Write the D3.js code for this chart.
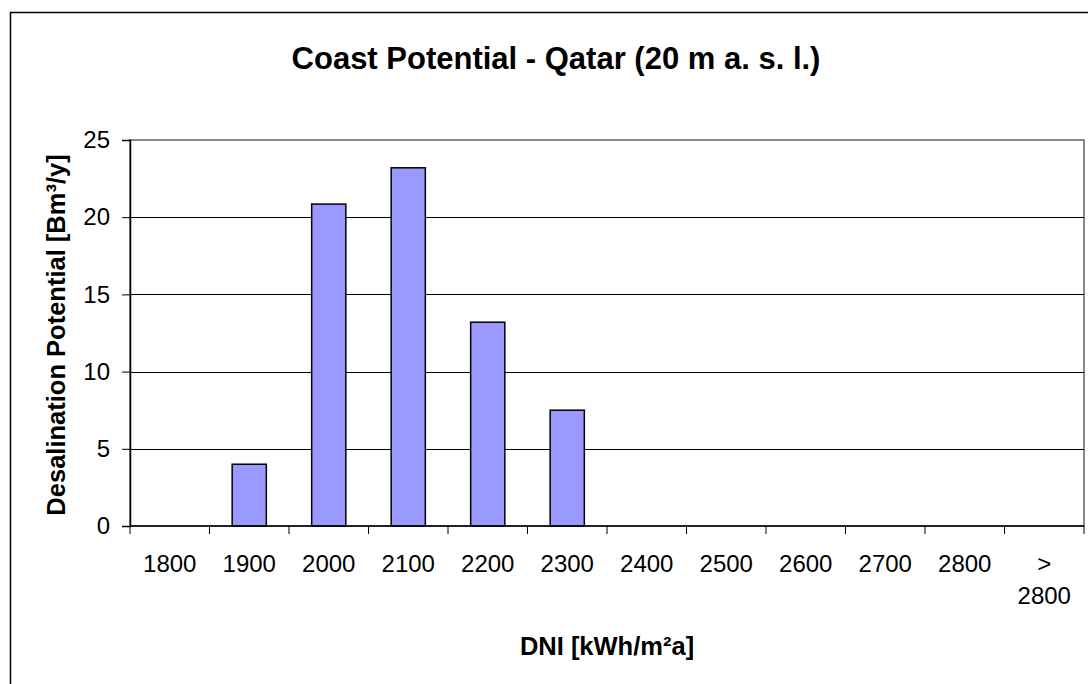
<!DOCTYPE html>
<html>
<head>
<meta charset="utf-8">
<script src="https://cdn.jsdelivr.net/npm/d3@7/dist/d3.min.js"></script>
<style>
  html, body { margin: 0; padding: 0; background: #fff; overflow: hidden; }
  svg { display: block; }
</style>
</head>
<body>
<div id="chart"></div>
<script>
const categories = ["1800", "1900", "2000", "2100", "2200", "2300", "2400", "2500", "2600", "2700", "2800", "> 2800"];
const potential = [0, 4.0, 20.85, 23.2, 13.2, 7.5, 0, 0, 0, 0, 0, 0];
const yTicks = [0, 5, 10, 15, 20, 25];

const width = 1088, height = 684;
const plot = {left: 130, top: 140, right: 1084, bottom: 526};
const font = "'Liberation Sans', Arial, sans-serif";

const svg = d3.select("#chart").append("svg")
  .attr("width", width)
  .attr("height", height)
  .style("font-family", font);

svg.append("rect").attr("width", width).attr("height", height).attr("fill", "#fff");

// outer chart frame (runs past the right and bottom edges)
svg.append("rect")
  .attr("x", 10.5).attr("y", 12.5)
  .attr("width", 1100).attr("height", 700)
  .attr("fill", "none")
  .attr("stroke", "#000")
  .attr("stroke-width", 1.5);

const x = d3.scaleBand()
  .domain(categories)
  .range([plot.left, plot.right])
  .paddingInner(0.57)
  .paddingOuter(0.285);

const y = d3.scaleLinear()
  .domain([0, 25])
  .range([plot.bottom, plot.top]);

// plot area border (gray)
svg.append("rect")
  .attr("x", plot.left).attr("y", plot.top)
  .attr("width", plot.right - plot.left).attr("height", plot.bottom - plot.top)
  .attr("fill", "none")
  .attr("stroke", "#888")
  .attr("stroke-width", 2);

// gridlines
svg.append("g")
  .selectAll("line")
  .data(yTicks.filter(d => d > 0 && d < 25))
  .join("line")
    .attr("x1", plot.left).attr("x2", plot.right)
    .attr("y1", d => Math.round(y(d)) + 0.5).attr("y2", d => Math.round(y(d)) + 0.5)
    .attr("stroke", "#000")
    .attr("stroke-width", 1);

// bars
svg.append("g")
  .selectAll("rect")
  .data(potential.map((v, i) => ({cat: categories[i], v})).filter(d => d.v > 0))
  .join("rect")
    .attr("x", d => x(d.cat))
    .attr("y", d => y(d.v))
    .attr("width", x.bandwidth())
    .attr("height", d => y(0) - y(d.v))
    .attr("fill", "#9999ff")
    .attr("stroke", "#000")
    .attr("stroke-width", 1.5);

// y axis
const yAxis = svg.append("g")
  .attr("transform", `translate(${plot.left},0)`)
  .call(d3.axisLeft(y).tickValues(yTicks).tickSize(8).tickPadding(12).tickFormat(d3.format("d")));
yAxis.select(".domain").attr("stroke", "#000").attr("stroke-width", 1.5);
yAxis.selectAll(".tick line").attr("stroke", "#000");
yAxis.selectAll("text").attr("font-size", 24).attr("font-family", font).attr("fill", "#000");

// x axis: ticks between categories
const step = x.step();
const boundaries = d3.range(categories.length + 1).map(i => plot.left + i * step);
const xAxis = svg.append("g");
xAxis.append("line")
  .attr("x1", plot.left).attr("x2", plot.right)
  .attr("y1", plot.bottom).attr("y2", plot.bottom)
  .attr("stroke", "#000").attr("stroke-width", 1.5);
xAxis.selectAll("line.tk")
  .data(boundaries)
  .join("line")
    .attr("class", "tk")
    .attr("x1", d => d).attr("x2", d => d)
    .attr("y1", plot.bottom).attr("y2", plot.bottom + 8)
    .attr("stroke", "#000");

xAxis.selectAll("text")
  .data(categories)
  .join("text")
    .attr("text-anchor", "middle")
    .attr("font-size", 24)
    .attr("fill", "#000")
    .each(function(d) {
      const t = d3.select(this);
      const cx = x(d) + x.bandwidth() / 2;
      const parts = d.split(" ");
      parts.forEach((p, i) => {
        t.append("tspan")
          .attr("x", cx)
          .attr("y", 572 + i * 32)
          .text(p);
      });
    });

// title
svg.append("text")
  .attr("x", 556).attr("y", 69)
  .attr("text-anchor", "middle")
  .attr("font-size", 31)
  .attr("font-weight", "bold")
  .text("Coast Potential - Qatar (20 m a. s. l.)");

// axis titles
svg.append("text")
  .attr("x", (plot.left + plot.right) / 2)
  .attr("y", 655)
  .attr("text-anchor", "middle")
  .attr("font-size", 25.5)
  .attr("font-weight", "bold")
  .text("DNI [kWh/m²a]");

svg.append("text")
  .attr("transform", `translate(65,${(plot.top + plot.bottom) / 2 + 2}) rotate(-90)`)
  .attr("text-anchor", "middle")
  .attr("font-size", 25.5)
  .attr("font-weight", "bold")
  .text("Desalination Potential [Bm³/y]");
</script>
</body>
</html>
